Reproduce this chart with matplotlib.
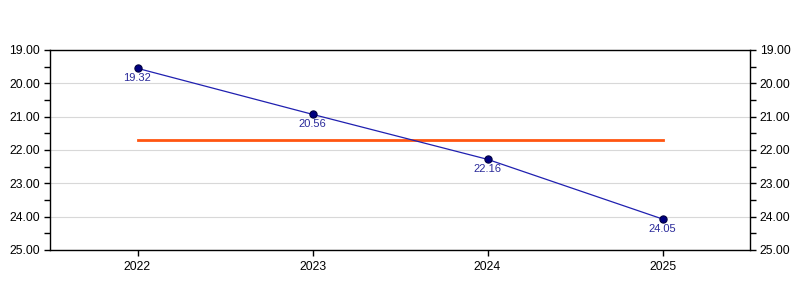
import matplotlib
matplotlib.use("Agg")
import matplotlib.pyplot as plt
from matplotlib.ticker import MultipleLocator, FormatStrFormatter

plt.rcParams['font.family'] = ['Liberation Sans', 'DejaVu Sans']

years = [2022, 2023, 2024, 2025]
values = [19.55, 20.93, 22.28, 24.07]
value_labels = ["19.32", "20.56", "22.16", "24.05"]

avg = sum(values) / len(values)

fig = plt.figure(figsize=(8, 3), dpi=100)
ax = fig.add_axes([50/800, 1 - 250/300, 700/800, 200/300])

ax.plot(years, values, color='#2020b0', lw=0.9, zorder=3)
ax.plot(years, values, 'o', color='#000080', ms=5.2, mec='#000040', mew=0.8, zorder=4)
ax.plot([years[0], years[-1]], [avg, avg], color='#ff5511', lw=2, zorder=2)

for x, y, t in zip(years, values, value_labels):
    ax.annotate(t, (x, y), xytext=(0, -7.3), textcoords='offset points',
                ha='center', va='center', fontsize=8, color='#2a2a9a')

ax.set_xlim(2021.5, 2025.5)
ax.set_ylim(25, 19)
ax.set_xticks(years)
ax.set_xticklabels([str(y) for y in years])
ax.yaxis.set_major_locator(MultipleLocator(1))
ax.yaxis.set_minor_locator(MultipleLocator(0.5))
ax.yaxis.set_major_formatter(FormatStrFormatter('%.2f'))
ax.tick_params(axis='y', which='both', left=True, right=True, labelleft=True, labelright=True,
               direction='out', length=4, width=1, labelsize=8.7, pad=3)
ax.tick_params(axis='x', which='both', bottom=True, top=False, direction='out', length=4,
               width=1, labelsize=8.7, pad=4)
ax.grid(axis='y', which='major', color='#d8d8d8', lw=0.8)
ax.set_axisbelow(True)
for s in ax.spines.values():
    s.set_color('black')
    s.set_linewidth(1)

fig.savefig('out.png', dpi=100)
